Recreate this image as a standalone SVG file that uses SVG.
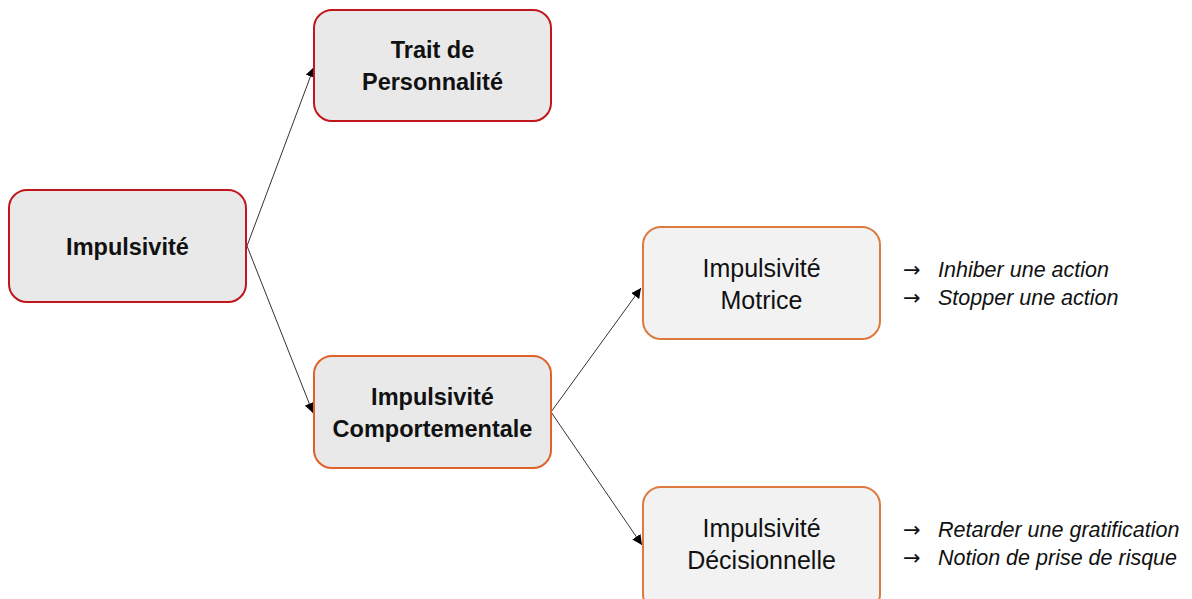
<svg xmlns="http://www.w3.org/2000/svg" width="1192" height="599" viewBox="0 0 1192 599">
<style>
.box{stroke-width:2}
.red{fill:#e9e9e9;stroke:#c0161c}
.org{fill:#e9e9e9;stroke:#e0622a}
.lt{fill:#f2f2f2;stroke:#dc7a40}
.b{font-family:"Liberation Sans",Arial,sans-serif;font-weight:bold;font-size:23.5px;fill:#111;text-anchor:middle}
.n{font-family:"Liberation Sans",Arial,sans-serif;font-size:25px;fill:#111;text-anchor:middle}
.it{font-family:"Liberation Sans",Arial,sans-serif;font-size:21.5px;fill:#111;font-style:italic}
.ar{font-family:"DejaVu Sans",sans-serif;font-size:21px;fill:#111}
.conn line{stroke:#333;stroke-width:1;marker-end:url(#ah)}
</style>
<defs>
<marker id="ah" viewBox="0 0 10 10" refX="10" refY="5" markerWidth="10" markerHeight="10" markerUnits="userSpaceOnUse" orient="auto">
<path d="M0,0 L10,5 L0,10 z" fill="#000"/>
</marker>
</defs>
<rect width="1192" height="599" fill="#fff"/>
<g class="conn">
<line x1="247" y1="246" x2="314" y2="67"/>
<line x1="247" y1="246" x2="313" y2="413"/>
<line x1="551" y1="412" x2="641" y2="288"/>
<line x1="551" y1="412" x2="642" y2="545"/>
</g>
<g id="n-impulsivite">
<rect class="box red" x="9" y="190" width="237" height="112" rx="18"/>
<text class="b" x="127.5" y="255">Impulsivité</text>
</g>
<g id="n-trait">
<rect class="box red" x="314" y="10" width="237" height="111" rx="18"/>
<text class="b" x="432.5" y="58">Trait de</text>
<text class="b" x="432.5" y="90">Personnalité</text>
</g>
<g id="n-comport">
<rect class="box org" x="314" y="356" width="237" height="112" rx="18"/>
<text class="b" x="432.5" y="405">Impulsivité</text>
<text class="b" x="432.5" y="437">Comportementale</text>
</g>
<g id="n-motrice">
<rect class="box lt" x="643" y="227" width="237" height="112" rx="18"/>
<text class="n" x="761.5" y="277">Impulsivité</text>
<text class="n" x="761.5" y="309">Motrice</text>
</g>
<g id="n-decision">
<rect class="box lt" x="643" y="487" width="237" height="125" rx="18"/>
<text class="n" x="761.5" y="537">Impulsivité</text>
<text class="n" x="761.5" y="569">Décisionnelle</text>
</g>
<g id="notes">
<text class="ar" x="903" y="277">→</text>
<text class="it" x="938" y="277">Inhiber une action</text>
<text class="ar" x="903" y="305">→</text>
<text class="it" x="938" y="305">Stopper une action</text>
<text class="ar" x="903" y="537">→</text>
<text class="it" x="938" y="537">Retarder une gratification</text>
<text class="ar" x="903" y="565">→</text>
<text class="it" x="938" y="565">Notion de prise de risque</text>
</g>
</svg>
